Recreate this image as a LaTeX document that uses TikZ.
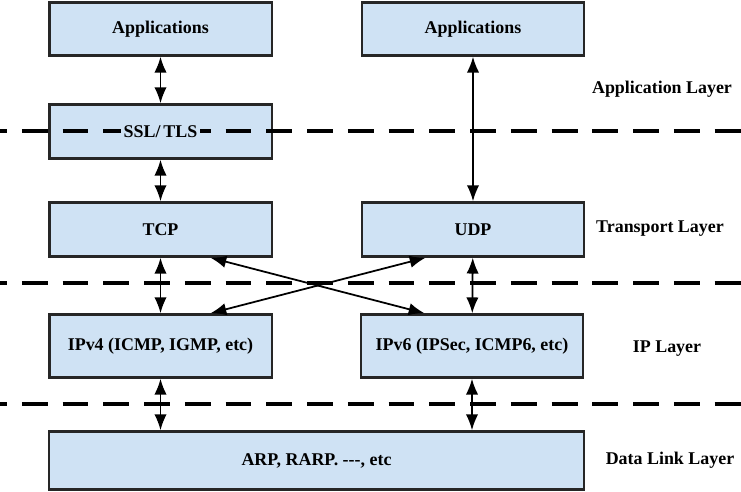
\documentclass[tikz,border=0pt]{standalone}
\usepackage{fontspec}
\setmainfont{Liberation Serif}
\usetikzlibrary{arrows.meta}
\definecolor{cajaazul}{RGB}{207,226,244}
\tikzset{
  caja/.style={draw=black!85, line width=1.4pt, fill=cajaazul, font=\bfseries\fontsize{10.2}{12}\selectfont, minimum width=4.45cm},
  flecha/.style={{Latex[length=9pt,width=7pt]}-{Latex[length=9pt,width=7pt]}, line width=1pt},
  capa/.style={line width=2.8pt, dash pattern=on 14.7pt off 8.5pt, dash phase=10.8pt},
  nombre/.style={font=\bfseries\fontsize{10.2}{12}\selectfont}
}
\begin{document}
\begin{tikzpicture}[x=0.02cm, y=-0.02cm]
        % Marco
        \useasboundingbox (0, 0) rectangle (741, 492);

        % Cajas
        \node[caja, minimum height=1.06cm] (app1) at (160.5, 29) {Applications};
        \node[caja, minimum height=1.06cm] (app2) at (473, 29) {Applications};
        \node[caja, minimum height=1.08cm] (ssl) at (160.5, 131.5) {};
        \node[caja, minimum height=1.08cm] (tcp) at (160.5, 229.5) {TCP};
        \node[caja, minimum height=1.08cm] (udp) at (473, 229.5) {UDP};
        \node[caja, minimum height=1.26cm] (ipv4) at (160.5, 346) {IPv4 (ICMP, IGMP, etc)};
        \node[caja, minimum height=1.26cm] (ipv6) at (472, 346) {IPv6 (IPSec, ICMP6, etc)};
        \node[caja, minimum height=1.16cm, minimum width=10.7cm] (arp) at (316.5, 460.5) {ARP, RARP. -{}-{}-, etc};

        % Limites entre capas
        \draw[capa] (0, 131) -- (741, 131);
        \draw[capa] (0, 283) -- (741, 283);
        \draw[capa] (0, 404) -- (741, 404);

        % Texto de SSL/TLS sobre la linea
        \node[nombre, fill=cajaazul, inner sep=1.5pt] (ssltxt) at (ssl.center) {SSL/\,TLS};

        % Flechas verticales
        \draw[flecha] (app1) -- (ssl);
        \draw[flecha] (ssl) -- (tcp);
        \draw[flecha] (app2) -- (udp);
        \draw[flecha] (tcp) -- (ipv4);
        \draw[flecha] (udp) -- (ipv6);
        \draw[flecha] (ipv4.south) -- (ipv4.south |- arp.north);
        \draw[flecha] (ipv6.south) -- (ipv6.south |- arp.north);

        % Flechas cruzadas
        \draw[flecha] ([xshift=1cm]tcp.south) -- ([xshift=-0.95cm]ipv6.north);
        \draw[flecha] ([xshift=-0.95cm]udp.south) -- ([xshift=1cm]ipv4.north);

        % Nombres de las capas
        \node[nombre] (lapp) at (662, 89) {Application Layer};
        \node[nombre] (ltra) at (660, 229) {Transport Layer};
        \node[nombre] (lip) at (667, 349) {IP Layer};
        \node[nombre] (ldl) at (670, 460) {Data Link Layer};
    \end{tikzpicture}
\end{document}
